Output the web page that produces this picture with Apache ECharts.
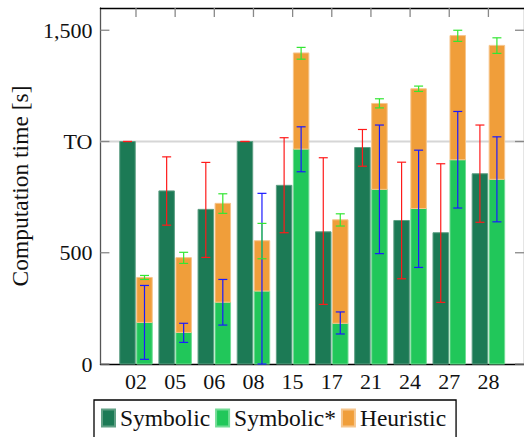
<!DOCTYPE html>
<html>
<head>
<meta charset="utf-8">
<script src="https://cdn.jsdelivr.net/npm/echarts@6/dist/echarts.min.js"></script>
<style>html,body{margin:0;padding:0;background:#fff}#c{width:524px;height:437px}</style>
</head>
<body>
<div id="c"></div>
<script>
var categories = ['02','05','06','08','15','17','21','24','27','28'];
var symbolic      = [1000, 778, 695, 1000, 803, 594, 973, 645, 590, 855];
var symbolicLow   = [1000, 624, 479, 1000, 590, 268, 889, 383, 277, 637];
var symbolicHigh  = [1000, 931, 906, 1000, 1017, 927, 1054, 907, 900, 1074];
var symbolicStar     = [187, 142, 278, 328, 966, 183, 785, 699, 918, 830];
var symbolicStarLow  = [21, 97, 175, 0, 864, 135, 496, 434, 701, 639];
var symbolicStarHigh = [353, 183, 380, 767, 1066, 234, 1074, 961, 1135, 1021];
var heuristic     = [202, 336, 444, 226, 432, 465, 386, 538, 558, 602];
var heuristicLow  = [380, 452, 677, 473, 1370, 620, 1151, 1225, 1450, 1396];
var heuristicHigh = [398, 502, 765, 632, 1423, 675, 1192, 1249, 1500, 1466];
var yTickValues = [0, 500, 1000, 1500];
var yTickLabels = ['0', '500', 'TO', '1,500'];
var timeoutValue = 1000;

var FONT = "'Liberation Serif', 'DejaVu Serif', serif";
var BW = 15.5;
var GAP = 0.75;
var TICK = 9;
var C_SYM = '#1c7a55', C_STAR = '#21c75a', C_HEUR = '#f09e3a';

function barRender(side) {
  return function (params, api) {
    var i = api.value(0);
    var base = api.coord([i, api.value(1)]);
    var top = api.coord([i, api.value(2)]);
    var x = side < 0 ? base[0] - GAP - BW : base[0] + GAP;
    return {
      type: 'rect',
      shape: { x: x, y: top[1], width: BW, height: base[1] - top[1] },
      style: api.style()
    };
  };
}
function errRender(side, color) {
  return function (params, api) {
    var i = api.value(0);
    var lo = api.coord([i, api.value(1)]);
    var hi = api.coord([i, api.value(2)]);
    var cx = lo[0] + side * (GAP + BW / 2);
    var cap = 4.5;
    var st = { stroke: color, lineWidth: 1.2 };
    return {
      type: 'group',
      children: [
        { type: 'line', shape: { x1: cx, y1: lo[1], x2: cx, y2: hi[1] }, style: st },
        { type: 'line', shape: { x1: cx - cap, y1: lo[1], x2: cx + cap, y2: lo[1] }, style: st },
        { type: 'line', shape: { x1: cx - cap, y1: hi[1], x2: cx + cap, y2: hi[1] }, style: st }
      ]
    };
  };
}

var symData = symbolic.map(function (v, i) { return [i, 0, v]; });
var starData = symbolicStar.map(function (v, i) { return [i, 0, v]; });
var heurData = heuristic.map(function (v, i) { return [i, symbolicStar[i], symbolicStar[i] + v]; });
var symErr = symbolic.map(function (v, i) { return [i, symbolicLow[i], symbolicHigh[i]]; });
var starErr = symbolicStar.map(function (v, i) { return [i, symbolicStarLow[i], symbolicStarHigh[i]]; });
var heurErr = heuristic.map(function (v, i) { return [i, heuristicLow[i], heuristicHigh[i]]; });
var catIdx = categories.map(function (c, i) { return i; });

var chart = echarts.init(document.getElementById('c'), null, { renderer: 'svg' });
chart.setOption({
  animation: false,
  backgroundColor: '#fff',
  textStyle: { fontFamily: FONT, color: '#111' },
  grid: { left: 99, top: 8, width: 428.6, height: 356, containLabel: false },
  xAxis: [{
    type: 'value', min: -0.909, max: 9.909, position: 'bottom',
    axisLine: { show: true, onZero: false, lineStyle: { color: '#000', width: 1.3 } },
    axisTick: { show: false },
    splitLine: { show: false },
    axisLabel: {
      customValues: catIdx, margin: 6,
      formatter: function (v) { var k = Math.round(v); return Math.abs(k - v) < 1e-6 && categories[k] ? categories[k] : ''; },
      fontFamily: FONT, fontSize: 22, color: '#111'
    }
  }, {
    type: 'value', min: -0.909, max: 9.909, position: 'top',
    axisLine: { show: true, onZero: false, lineStyle: { color: '#000', width: 1.3 } },
    axisTick: { show: false },
    axisLabel: { show: false },
    splitLine: { show: false }
  }],
  yAxis: [{
    type: 'value', min: 0, max: 1600, position: 'left',
    name: 'Computation time [s]', nameLocation: 'middle', nameGap: 62,
    nameTextStyle: { fontFamily: FONT, fontSize: 23.5, color: '#111' },
    axisLine: { show: true, onZero: false, lineStyle: { color: '#555', width: 1.3 } },
    axisTick: { show: false },
    axisLabel: {
      customValues: yTickValues, margin: 8,
      formatter: function (v) { var k = yTickValues.indexOf(v); return k >= 0 ? yTickLabels[k] : ''; },
      fontFamily: FONT, fontSize: 22, color: '#111'
    },
    splitLine: { show: false }
  }, {
    type: 'value', min: 0, max: 1600, position: 'right',
    axisLine: { show: true, onZero: false, lineStyle: { color: '#555', width: 1.3 } },
    axisTick: { show: false },
    axisLabel: { show: false },
    splitLine: { show: false }
  }],
  legend: {
    left: 94, top: 400, orient: 'horizontal',
    itemWidth: 13, itemHeight: 17, itemGap: 5,
    padding: [6, 10, 30, 7],
    borderColor: '#000', borderWidth: 1.3, backgroundColor: '#fff',
    icon: 'rect',
    textStyle: { fontFamily: FONT, fontSize: 23.5, color: '#111' },
    data: [
      { name: 'Symbolic', itemStyle: { color: C_SYM } },
      { name: 'Symbolic*', itemStyle: { color: C_STAR } },
      { name: 'Heuristic', itemStyle: { color: C_HEUR } }
    ],
    selectedMode: false
  },
  series: [
    {
      type: 'custom', name: 'TO line', z: 1, silent: true,
      data: [[0, timeoutValue]],
      renderItem: function (params, api) {
        var y = api.coord([0, api.value(1)])[1];
        var cs = params.coordSys;
        return { type: 'line', shape: { x1: cs.x, y1: y, x2: cs.x + cs.width, y2: y }, style: { stroke: '#d6d6d6', lineWidth: 2 } };
      }
    },
    {
      type: 'custom', name: 'y ticks', z: 4, silent: true,
      data: yTickValues.map(function (v) { return [0, v]; }),
      renderItem: function (params, api) {
        var y = api.coord([0, api.value(1)])[1];
        var cs = params.coordSys;
        var st = { stroke: '#888', lineWidth: 1.3 };
        return { type: 'group', children: [
          { type: 'line', shape: { x1: cs.x, y1: y, x2: cs.x + TICK, y2: y }, style: st },
          { type: 'line', shape: { x1: cs.x + cs.width - TICK, y1: y, x2: cs.x + cs.width, y2: y }, style: st }
        ] };
      }
    },
    {
      type: 'custom', name: 'x ticks', z: 4, silent: true,
      data: catIdx.map(function (v) { return [v, 1600]; }),
      renderItem: function (params, api) {
        var x = api.coord([api.value(0), api.value(1)])[0];
        var cs = params.coordSys;
        return { type: 'line', shape: { x1: x, y1: cs.y, x2: x, y2: cs.y + TICK }, style: { stroke: '#888', lineWidth: 1.3 } };
      }
    },
    { type: 'custom', name: 'Symbolic', z: 2, data: symData, renderItem: barRender(-1),
      itemStyle: { color: C_SYM, borderColor: '#5f9f84', borderWidth: 1 } },
    { type: 'custom', name: 'Symbolic*', z: 2, data: starData, renderItem: barRender(1),
      itemStyle: { color: C_STAR, borderColor: '#72dc95', borderWidth: 1 } },
    { type: 'custom', name: 'Heuristic', z: 2, data: heurData, renderItem: barRender(1),
      itemStyle: { color: C_HEUR, borderColor: '#f6c58c', borderWidth: 1 } },
    { type: 'custom', name: 'err-sym', z: 3, silent: true, data: symErr, renderItem: errRender(-1, '#ff1a1a') },
    { type: 'custom', name: 'err-star', z: 3, silent: true, data: starErr, renderItem: errRender(1, '#1a1aff') },
    { type: 'custom', name: 'err-heur', z: 3, silent: true, data: heurErr, renderItem: errRender(1, '#33e633') }
  ]
});
</script>
</body>
</html>
